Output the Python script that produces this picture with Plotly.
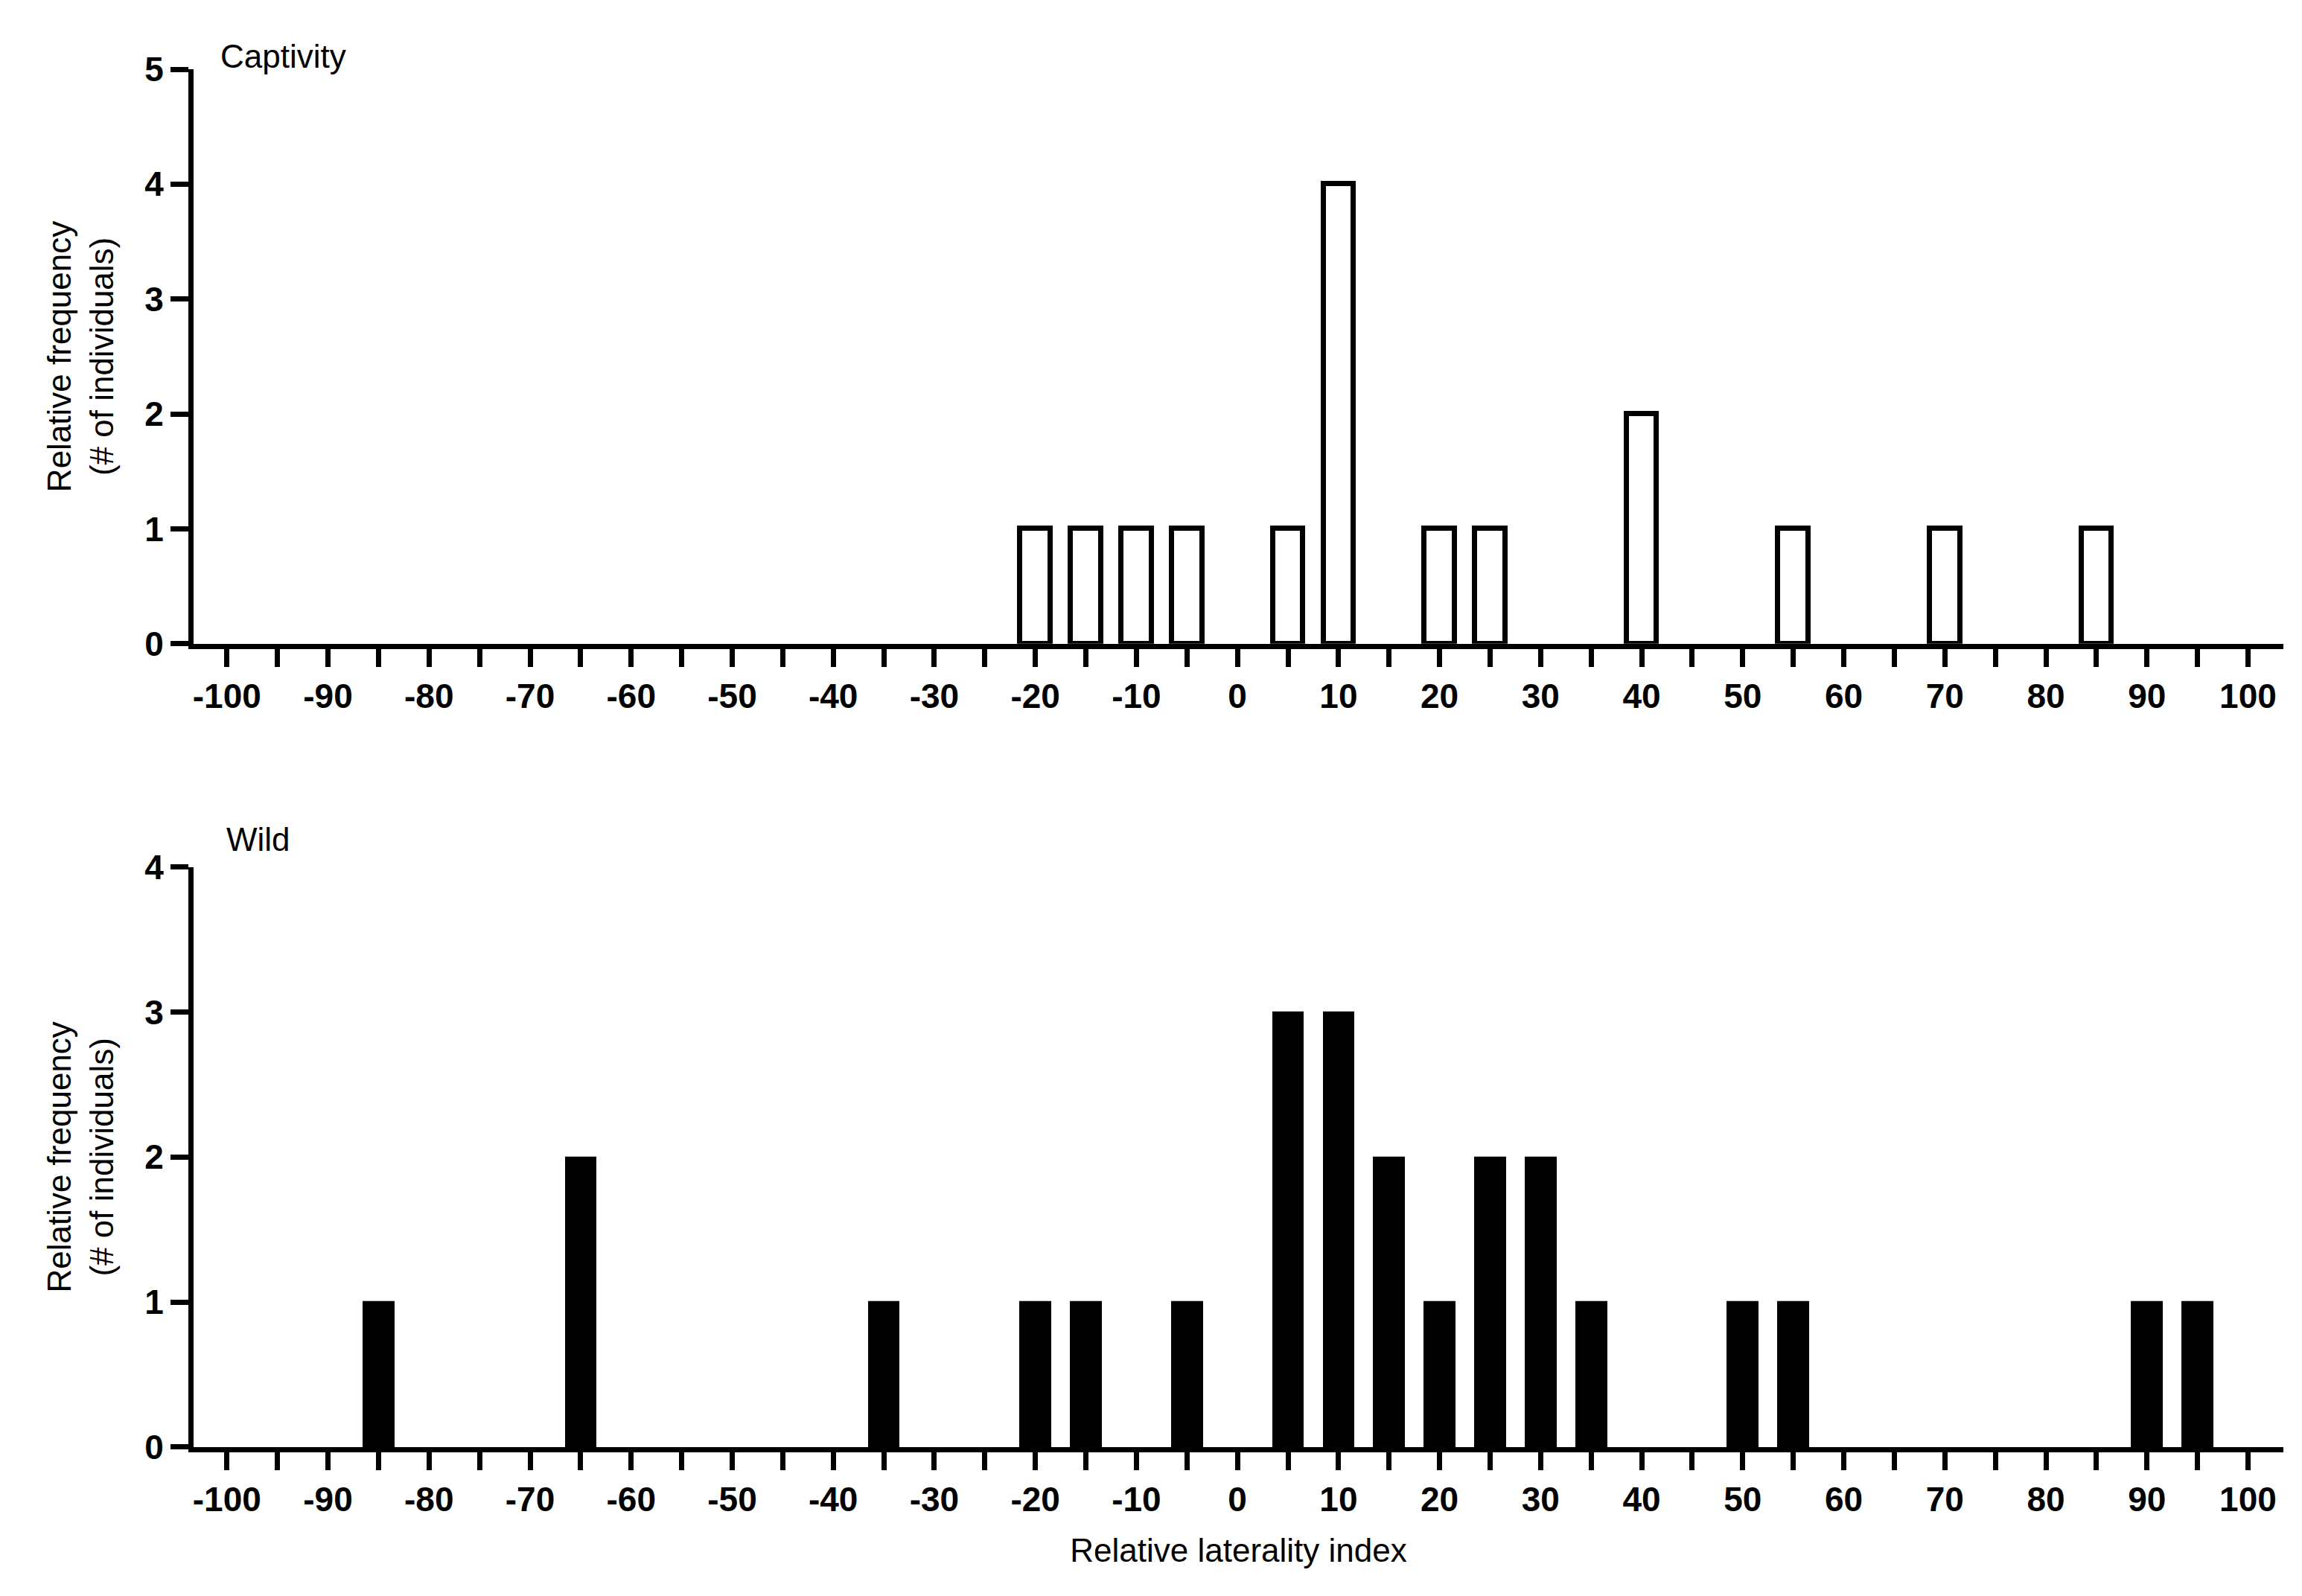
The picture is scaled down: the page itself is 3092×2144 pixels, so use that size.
import plotly.graph_objects as go
from plotly.subplots import make_subplots

# Captivity histogram
cap_x = [-20, -15, -10, -5, 5, 10, 20, 25, 40, 55, 70, 85]
cap_y = [1, 1, 1, 1, 1, 4, 1, 1, 2, 1, 1, 1]

# Wild histogram
wild_x = [-85, -65, -35, -20, -15, -5, 5, 10, 15, 20, 25, 30, 35, 50, 55, 90, 95]
wild_y = [1, 2, 1, 1, 1, 1, 3, 3, 2, 1, 2, 2, 1, 1, 1, 1, 1]

tick_vals = list(range(-100, 101, 5))
tick_text = [str(v) if v % 10 == 0 else "" for v in tick_vals]

FONT = "Liberation Sans, Arial, sans-serif"

fig = make_subplots(rows=2, cols=1, vertical_spacing=0.0)

fig.add_trace(go.Bar(x=cap_x, y=cap_y, width=3, marker=dict(color="white", line=dict(color="black", width=7))), row=1, col=1)
fig.add_trace(go.Bar(x=wild_x, y=wild_y, width=3, marker=dict(color="black", line=dict(color="black", width=2))), row=2, col=1)

xcommon = dict(range=[-103.3, 103.5], tickvals=tick_vals, ticktext=tick_text, ticks="outside",
               ticklen=24, tickwidth=7, tickcolor="black", showline=True, linewidth=7, linecolor="black",
               showgrid=False, zeroline=False,
               tickfont=dict(family=FONT, size=46, color="black", weight="bold"))
ycommon = dict(ticks="outside", ticklen=24, tickwidth=7, tickcolor="black", showline=True, linewidth=7,
               linecolor="black", showgrid=False, zeroline=False, dtick=1,
               tickfont=dict(family=FONT, size=46, color="black", weight="bold"),
               title=dict(text="Relative frequency<br>(# of individuals)", font=dict(family=FONT, size=44, color="black"), standoff=30))

fig.update_xaxes(**xcommon)
fig.update_yaxes(**ycommon)
fig.update_yaxes(range=[0, 5], domain=[0.583, 1.0], row=1, col=1)
fig.update_yaxes(range=[0, 4], domain=[0.0, 0.421], row=2, col=1)
fig.update_xaxes(title=dict(text="Relative laterality index", font=dict(family=FONT, size=44, color="black"), standoff=30), row=2, col=1)

fig.add_annotation(text="Captivity", xref="paper", yref="paper", x=0.012, y=0.995, xanchor="left", yanchor="bottom",
                   showarrow=False, font=dict(family=FONT, size=44, color="black"))
fig.add_annotation(text="Wild", xref="paper", yref="paper", x=0.015, y=0.427, xanchor="left", yanchor="bottom",
                   showarrow=False, font=dict(family=FONT, size=44, color="black"))

fig.update_layout(width=3092, height=2144, showlegend=False, plot_bgcolor="white", paper_bgcolor="white",
                  margin=dict(l=252, r=33, t=85, b=208), bargap=0)

fig.write_html("out.html")
